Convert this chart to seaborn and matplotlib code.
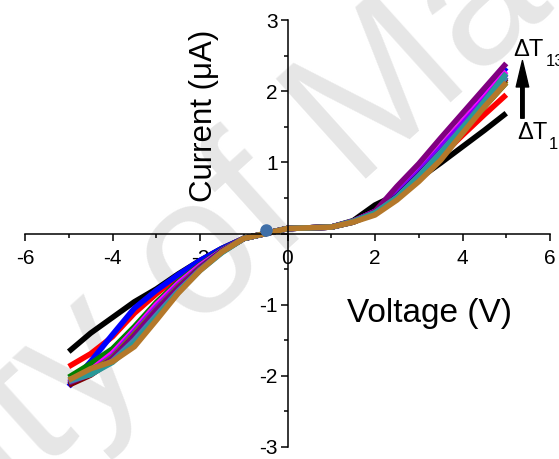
import numpy as np
import pandas as pd
import seaborn as sns
import matplotlib.pyplot as plt
from matplotlib.ticker import MultipleLocator

# voltage sweep shared by all curves
voltage = [-5.0, -4.5, -4.0, -3.5, -3.0, -2.5, -2.0, -1.5, -1.0, -0.5, 0.0,
           0.5, 1.0, 1.5, 2.0, 2.5, 3.0, 3.5, 4.0, 4.5, 5.0]

# current (uA) for each temperature difference
dT01 = [-1.66, -1.40, -1.18, -0.96, -0.78, -0.57, -0.38, -0.21, -0.07, 0.00, 0.07, 0.08, 0.09, 0.18, 0.40, 0.55, 0.77, 0.99, 1.22, 1.45, 1.69]
dT02 = [-1.87, -1.69, -1.45, -1.12, -0.85, -0.60, -0.40, -0.22, -0.07, 0.00, 0.07, 0.08, 0.09, 0.17, 0.30, 0.50, 0.78, 1.08, 1.38, 1.67, 1.95]
dT03 = [-2.15, -1.80, -1.42, -1.05, -0.80, -0.58, -0.38, -0.21, -0.07, 0.00, 0.07, 0.08, 0.09, 0.17, 0.30, 0.54, 0.86, 1.20, 1.56, 1.94, 2.33]
dT04 = [-2.02, -1.83, -1.62, -1.31, -0.97, -0.68, -0.44, -0.23, -0.07, 0.00, 0.07, 0.08, 0.09, 0.17, 0.30, 0.51, 0.80, 1.12, 1.45, 1.78, 2.12]
dT05 = [-2.10, -1.92, -1.68, -1.35, -1.00, -0.70, -0.45, -0.24, -0.07, 0.00, 0.07, 0.08, 0.09, 0.17, 0.31, 0.56, 0.88, 1.22, 1.57, 1.92, 2.28]
dT06 = [-2.08, -1.94, -1.72, -1.38, -1.04, -0.73, -0.47, -0.24, -0.07, 0.00, 0.07, 0.08, 0.09, 0.17, 0.31, 0.55, 0.86, 1.20, 1.54, 1.88, 2.24]
dT07 = [-2.06, -1.95, -1.74, -1.41, -1.07, -0.75, -0.48, -0.25, -0.07, 0.00, 0.07, 0.08, 0.09, 0.16, 0.29, 0.50, 0.79, 1.10, 1.44, 1.79, 2.15]
dT08 = [-2.12, -1.97, -1.76, -1.44, -1.09, -0.77, -0.49, -0.25, -0.07, 0.00, 0.07, 0.08, 0.09, 0.16, 0.29, 0.52, 0.82, 1.14, 1.48, 1.84, 2.20]
dT09 = [-2.13, -1.99, -1.78, -1.47, -1.12, -0.79, -0.50, -0.26, -0.07, 0.00, 0.07, 0.08, 0.09, 0.16, 0.29, 0.51, 0.81, 1.13, 1.47, 1.82, 2.18]
dT10 = [-2.10, -1.97, -1.76, -1.44, -1.08, -0.77, -0.49, -0.25, -0.07, 0.00, 0.07, 0.08, 0.09, 0.17, 0.31, 0.66, 0.98, 1.34, 1.69, 2.04, 2.39]
dT11 = [-2.08, -1.98, -1.79, -1.50, -1.15, -0.81, -0.51, -0.26, -0.07, 0.00, 0.07, 0.08, 0.09, 0.16, 0.29, 0.51, 0.81, 1.14, 1.49, 1.84, 2.20]
dT12 = [-2.05, -1.98, -1.81, -1.54, -1.18, -0.83, -0.52, -0.27, -0.07, 0.00, 0.07, 0.08, 0.09, 0.17, 0.29, 0.50, 0.79, 1.12, 1.48, 1.86, 2.25]
dT13 = [-2.06, -1.90, -1.80, -1.59, -1.22, -0.84, -0.52, -0.26, -0.07, 0.00, 0.07, 0.08, 0.09, 0.16, 0.26, 0.47, 0.73, 1.03, 1.41, 1.78, 2.12]

curves = [dT01, dT02, dT03, dT04, dT05, dT06, dT07, dT08, dT09, dT10, dT11, dT12, dT13]
colors = ['black', 'red', 'blue', '#008000', '#ff00ff', '#8000ff', '#808000',
          '#000080', '#800000', '#800080', '#4682b4', '#2a9898', '#b4782a']

rows = []
for k, cur in enumerate(curves):
    for v, c in zip(voltage, cur):
        rows.append({'V': v, 'I': c, 'curve': f'dT{k + 1}'})
df = pd.DataFrame(rows)

sns.set_theme(style='white')
plt.rcParams['font.family'] = ['Liberation Sans', 'DejaVu Sans']
plt.rcParams['axes.unicode_minus'] = False
plt.rcParams['text.color'] = 'black'

fig = plt.figure(figsize=(5.59, 4.59), dpi=100)
ax = fig.add_axes([25 / 559, 1 - 447 / 459, 525 / 559, 427 / 459])

# watermark in the background
fig.text(0.304, 0.227, 'University of Malaya', fontsize=140, color='#e6e6e6',
         rotation=42, ha='center', va='baseline', rotation_mode='anchor', zorder=-1)
ax.patch.set_alpha(0)

sns.lineplot(data=df, x='V', y='I', hue='curve', palette=colors, sort=False,
             legend=False, linewidth=4, ax=ax, solid_capstyle='butt')

# stray marker near origin
ax.plot([-0.5], [0.05], 'o', color='#3f6fa8', markersize=8, zorder=3)

ax.set_xlim(-6, 6)
ax.set_ylim(-3, 3)
ax.spines['left'].set_position('zero')
ax.spines['bottom'].set_position('zero')
ax.spines['top'].set_visible(False)
ax.spines['right'].set_visible(False)
for s in ['left', 'bottom']:
    ax.spines[s].set_color('black')
    ax.spines[s].set_linewidth(1.1)

ax.set_xticks([-6, -4, -2, 0, 2, 4, 6])
ax.set_xticklabels(['-6', '-4', '-2', '0', '2', '4', '6'])
ax.set_yticks([-3, -2, -1, 0, 1, 2, 3])
ax.set_yticklabels(['-3', '-2', '-1', '', '1', '2', '3'])
ax.xaxis.set_minor_locator(MultipleLocator(1))
ax.yaxis.set_minor_locator(MultipleLocator(0.5))
ax.tick_params(which='major', direction='out', length=5, width=1.1, color='black',
               labelsize=15, labelcolor='black')
ax.tick_params(axis='x', which='major', pad=6)
ax.tick_params(axis='y', which='major', pad=2)
ax.tick_params(which='minor', direction='out', length=3, width=1.1, color='black')
ax.tick_params(left=True, bottom=True, which='both')
ax.set_axisbelow(True)
ax.set_xlabel('')
ax.set_ylabel('')

ax.text(3.25, -1.12, 'Voltage (V)', fontsize=24, ha='center', va='center')
ax.text(-1.9, 1.66, 'Current (\u03bcA)', fontsize=22.5, ha='center', va='center',
        rotation=90)

# temperature arrow
ax.annotate('', xy=(5.37, 2.43), xytext=(5.37, 1.62), annotation_clip=False,
            arrowprops=dict(facecolor='black', edgecolor='black', width=2.5,
                            headwidth=9, headlength=19, shrink=0))
ax.text(5.17, 2.5, '\u0394T', fontsize=17, ha='left', va='baseline', clip_on=False)
ax.text(5.9, 2.36, '13', fontsize=12, ha='left', va='baseline', clip_on=False)
ax.text(5.26, 1.33, '\u0394T', fontsize=17, ha='left', va='baseline', clip_on=False)
ax.text(5.97, 1.19, '1', fontsize=12, ha='left', va='baseline', clip_on=False)

fig.savefig('out.png', dpi=100)
